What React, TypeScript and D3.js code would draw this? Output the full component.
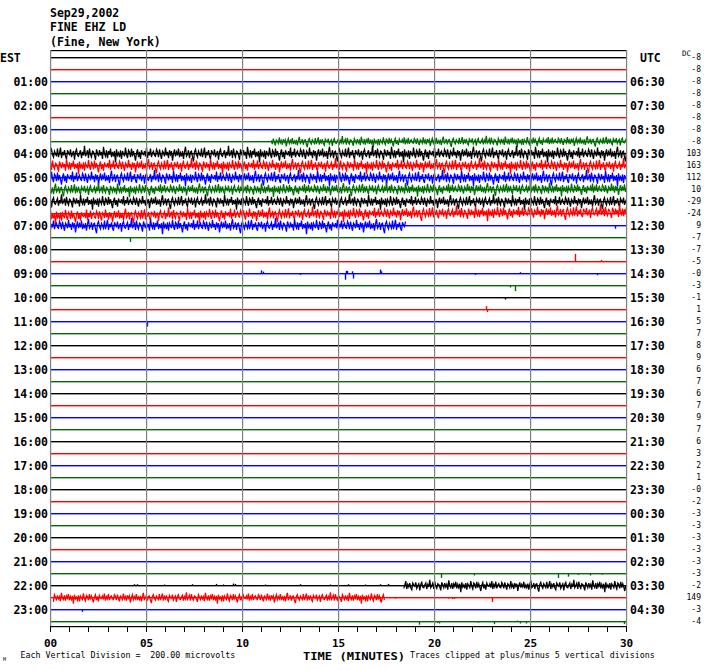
import React from "react";
import * as d3 from "d3";

// ---------- data ----------
const TITLE_LINES = ["Sep29,2002", "FINE EHZ LD", "(Fine, New York)"];
const ROW_COLORS = ["#000000", "#ff0000", "#0000ff", "#006e00"];
const EST_LABELS = ["EST", "01:00", "02:00", "03:00", "04:00", "05:00", "06:00", "07:00", "08:00", "09:00", "10:00", "11:00", "12:00", "13:00", "14:00", "15:00", "16:00", "17:00", "18:00", "19:00", "20:00", "21:00", "22:00", "23:00"];
const UTC_LABELS = ["UTC", "06:30", "07:30", "08:30", "09:30", "10:30", "11:30", "12:30", "13:30", "14:30", "15:30", "16:30", "17:30", "18:30", "19:30", "20:30", "21:30", "22:30", "23:30", "00:30", "01:30", "02:30", "03:30", "04:30"];
const DC_VALUES = [
  "-8", "-8", "-8", "-8", "-8", "-8", "-8", "-8",
  "103", "163", "112", "10", "-29", "-24", "9", "-7",
  "-7", "-5", "-0", "-3", "-1", "1", "5", "7",
  "8", "9", "6", "7", "6", "7", "9", "7",
  "6", "3", "2", "1", "-0", "-2", "-3", "-3",
  "-3", "-3", "-3", "-3", "-2", "149", "-3", "-4",
];
const MINUTE_TICKS = [0, 1, 2, 3, 4, 5, 6, 7, 8, 9, 10, 11, 12, 13, 14, 15, 16, 17, 18, 19, 20, 21, 22, 23, 24, 25, 26, 27, 28, 29, 30];
const MINUTE_LABELS = [0, 5, 10, 15, 20, 25, 30];
const MINUTE_LABEL_TEXT = ["00", "05", "10", "15", "20", "25", "30"];

// hand-read noise sample (normalised to +/-10)
const NOISE = [2, -4, 5, -1, -6, 3, 1, -3, 7, -2, 2, -5, 4, -1, 3, -8, 0, 5, -3, 2, -2, 6, -4, 1, -3, 3, -6, 2, 8, -3, -1, 4, -5, 2, 3, -4, -9, 2, 5, -1, -4, 3, 0, -3, 6, -4, 1, 7, -5, 2, -2, 4, -3, -6, 4, 1, -1, 5, -4, 0, 3, -7, 2, 5, -2, -3, 1, 4, -5, 2, -2, 9, -3, 0, 4, -5, 6, -1, -4, 3, 2, -2, -7, 5, 1, -3, 4, -2, 2, -6, 8, 0, -3, 4, -5, 3, -1, 6, -4, 2, -3, 3, -10, 5, -2, 1, -4, 4, -6, 3, 0, -3, 7, -1, -5, 4, 2, -4, 6, -3, 3, -2, -8, 1, 5, -4, 2, -6, 4, 0, -1, 3, -3, 7, -5, 2, -2, 6, -4, 1, 3, -2, -3, 5];

// noisy segments: trace row, start/end minute, peak amplitude (microvolts), DC drift (microvolts)
const NOISE_ROWS = [7, 8, 9, 10, 11, 12, 13, 14, 44, 45];
const NOISE_START = [11.5, 0, 0, 0, 0, 0, 0, 0, 18.4, 0.15];
const NOISE_END = [30, 30, 30, 30, 30, 30, 30, 18.5, 30, 17.4];
const NOISE_AMP = [100, 145, 140, 145, 125, 135, 140, 140, 110, 100];
const NOISE_DRIFT_START = [0, 0, 0, 0, 0, 0, -35, 0, 0, 0];
const NOISE_DRIFT_END = [10, 0, 0, 0, 15, 0, 30, 0, 0, 0];
const NOISE_OFFSET = [0, 37, 74, 111, 23, 60, 97, 134, 45, 82];

// isolated spikes: trace row, minute, value (microvolts, + = up)
const SPIKE_ROW = [15, 14, 17, 17, 18, 18, 18, 18, 18, 18, 18, 18, 18, 18, 18, 18, 18, 19, 19, 20, 21, 21, 22,
  43, 43, 43, 43, 43, 43, 43, 43,
  44, 44, 44, 44, 44, 44, 44, 44, 44, 44, 44, 44, 44, 44, 44,
  45, 45, 45, 45, 45, 45, 46,
  47, 47, 47, 47, 47, 47, 47, 47, 47];
const SPIKE_MIN = [4.17, 29.43, 27.34, 28.7, 10.99, 11.09, 13.02, 15.36, 15.4, 15.47, 15.74, 15.78, 17.19, 17.24, 22.14, 24.48, 28.49, 23.96, 24.22, 23.7, 22.7, 22.75, 5.03,
  20.35, 22.07, 25.22, 26.44, 27.0, 27.5, 28.13, 28.76,
  4.37, 4.53, 5.94, 7.4, 8.65, 9.01, 9.53, 9.64, 11.2, 13.0, 14.6, 15.5, 16.4, 17.2, 17.6,
  17.2, 17.97, 20.71, 20.92, 21.04, 23.02, 1.67,
  19.22, 20.16, 20.24, 22.29, 23.13, 24.3, 24.48, 24.77, 29.9];
const SPIKE_UV = [-70, -50, 130, 30, 55, 35, -20, -100, 50, 45, 40, -80, 70, 40, -20, 25, -25, -30, -90, -30, 60, -40, -80,
  -70, -30, -15, -70, -50, -20, -30, -15,
  25, 25, 20, 25, 30, 20, 35, 30, 20, 25, 20, 25, 20, 25, 30,
  -60, -15, -15, -20, -20, -70, -35,
  -50, -20, -30, -15, -40, 20, -30, -30, -40];

const TEXT_LEFT = "Each Vertical Division =  200.00 microvolts";
const TEXT_AXIS = "TIME (MINUTES)";
const TEXT_RIGHT = "Traces clipped at plus/minus 5 vertical divisions";

// ---------- layout ----------
const W = 706;
const H = 670;
const N_ROWS = 48;
const MONO = "'DejaVu Sans Mono', 'Liberation Mono', monospace";

const x = d3.scaleLinear().domain([0, 30]).range([50, 626]);
const yRow = d3.scaleLinear().domain([0, N_ROWS - 1]).range([57, 621]);
const uv = d3.scaleLinear().domain([0, 200]).range([0, 12]);
const rows = d3.range(N_ROWS);
const line = d3.line();

function noisePath(i: number): string {
  const r = NOISE_ROWS[i];
  const x0 = x(NOISE_START[i]);
  const x1 = x(NOISE_END[i]);
  const drift = d3.scaleLinear().domain([x0, x1]).range([NOISE_DRIFT_START[i], NOISE_DRIFT_END[i]]);
  const n = Math.floor(x1 - x0);
  const pts: [number, number][] = [];
  for (let k = 0; k <= n; k++) {
    const px = x0 + k + 0.5;
    const v = (NOISE[(k + NOISE_OFFSET[i]) % NOISE.length] / 10) * NOISE_AMP[i] + drift(px);
    pts.push([px, yRow(r) + 0.7 - uv(v)]);
  }
  return line(pts) || "";
}

export default function App() {
  return (
    <svg
      width={W}
      height={H}
      viewBox={`0 0 ${W} ${H}`}
      style={{ position: "absolute", left: 0, top: 0, background: "#fff" }}
      fontFamily={MONO}
    >
      <rect x={0} y={0} width={W} height={H} fill="#fff" />
      {/* header */}
      {TITLE_LINES.map((t, i) => (
        <text key={t} x={50} y={16.5 + i * 14.5} fontSize={11.5} fontWeight="bold" fill="#000">
          {t}
        </text>
      ))}

      {/* trace baselines */}
      {rows.map((r) => (
        <rect key={"b" + r} x={x(0)} y={yRow(r)} width={x(30) - x(0) + 1} height={1.4} fill={ROW_COLORS[r % 4]} />
      ))}

      {/* noisy traces */}
      {NOISE_ROWS.map((r, i) => (
        <path key={"n" + i} d={noisePath(i)} fill="none" stroke={ROW_COLORS[r % 4]} strokeWidth={1.25} />
      ))}

      {/* isolated spikes */}
      {SPIKE_ROW.map((r, i) => (
        <line
          key={"s" + i}
          x1={Math.round(x(SPIKE_MIN[i])) + 0.5}
          x2={Math.round(x(SPIKE_MIN[i])) + 0.5}
          y1={yRow(r) + 0.7}
          y2={yRow(r) + 0.7 - uv(SPIKE_UV[i])}
          stroke={ROW_COLORS[r % 4]}
          strokeWidth={1.4}
        />
      ))}

      {/* frame & 5-minute grid */}
      <rect x={x(0)} y={50} width={x(30) - x(0) + 1} height={1.2} fill="#000" />
      {MINUTE_LABELS.map((m) => (
        <rect key={"g" + m} x={x(m)} y={50} width={1.2} height={576} fill="#808080" />
      ))}

      {/* bottom axis */}
      <rect x={x(0)} y={626} width={x(30) - x(0) + 1} height={1.2} fill="#000" />
      {MINUTE_TICKS.map((m) => (
        <line key={"t" + m} x1={Math.round(x(m)) + 0.5} x2={Math.round(x(m)) + 0.5} y1={626} y2={632} stroke="#000" strokeWidth={1} />
      ))}
      {MINUTE_LABELS.map((m, i) => (
        <text key={"tl" + m} x={x(m) + 0.5} y={646.8} fontSize={11} fontWeight="bold" textAnchor="middle" fill="#000">
          {MINUTE_LABEL_TEXT[i]}
        </text>
      ))}

      {/* left EST labels */}
      {EST_LABELS.map((t, i) => (
        <text
          key={"e" + i}
          x={i === 0 ? 0 : 48}
          y={yRow(i * 2) + 4.8}
          fontSize={11.5}
          fontWeight="bold"
          textAnchor={i === 0 ? "start" : "end"}
          fill="#000"
        >
          {t}
        </text>
      ))}

      {/* right UTC labels */}
      {UTC_LABELS.map((t, i) => (
        <text key={"u" + i} x={i === 0 ? 640 : 630} y={yRow(i * 2) + 4.8} fontSize={11.5} fontWeight="bold" fill="#000">
          {t}
        </text>
      ))}

      {/* DC offsets */}
      <text x={682} y={55.5} fontSize={7.5} fill="#000">DC</text>
      {DC_VALUES.map((v, r) => (
        <text key={"dc" + r} x={701} y={yRow(r) + (r === 0 ? 2.5 : 3)} fontSize={8} textAnchor="end" fill="#000">
          {v}
        </text>
      ))}

      {/* footer */}
      <text x={3} y={661} fontSize={5} fill="#000">M</text>
      <text x={20.5} y={658} fontSize={8.3} fill="#000">{TEXT_LEFT.replace(/ /g, "\u00a0")}</text>
      <text x={303} y={659.8} fontSize={11} fontWeight="bold" fill="#000" textLength={102} lengthAdjust="spacingAndGlyphs">{TEXT_AXIS}</text>
      <text x={410} y={658} fontSize={8.3} fill="#000">{TEXT_RIGHT}</text>
    </svg>
  );
}
